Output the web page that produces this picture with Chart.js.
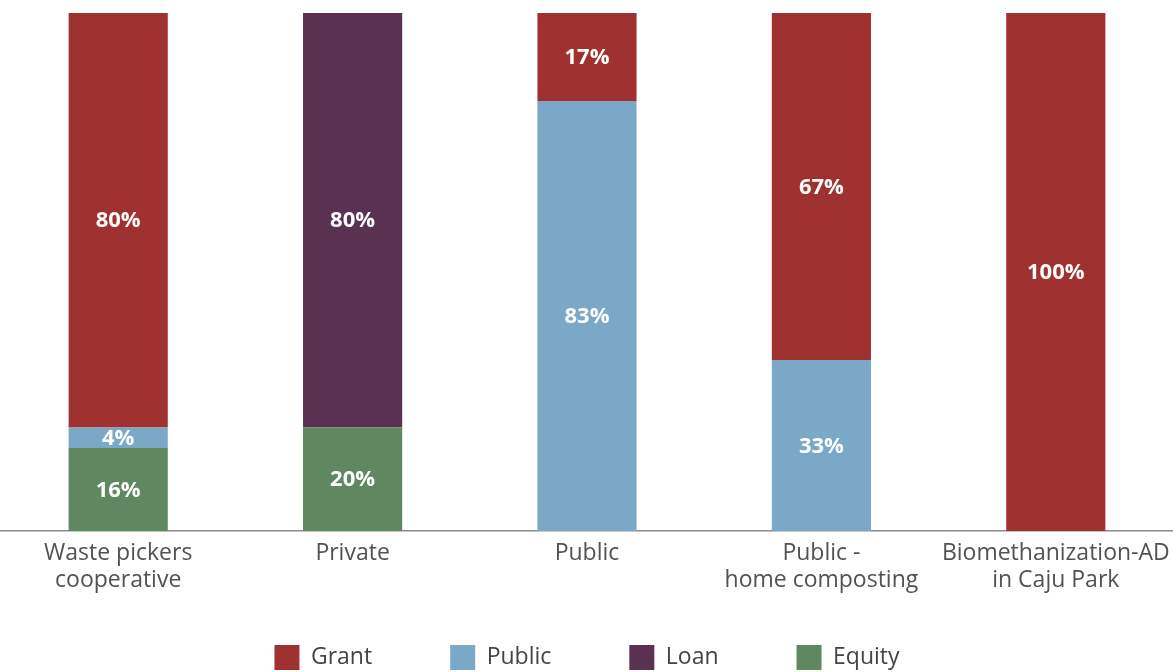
<!DOCTYPE html>
<html>
<head>
<meta charset="utf-8">
<script src="https://cdn.jsdelivr.net/npm/chart.js@4.4.1/dist/chart.umd.min.js"></script>
<style>
  html, body { margin: 0; padding: 0; background: #fff; }
  #wrap { width: 1173px; height: 672px; }
</style>
</head>
<body>
<div id="wrap"><canvas id="fundingChart"></canvas></div>
<script>
const categories = [
  ["Waste pickers", "cooperative"],
  "Private",
  "Public",
  ["Public -", "home composting"],
  ["Biomethanization-AD", "in Caju Park"]
];

// shares per funding source (%), stacked bottom-up
const equity = [16, 20, 0, 0, 0];
const publicFunds = [4, 0, 83, 33, 0];
const loan = [0, 80, 0, 0, 0];
const grant = [80, 0, 17, 67, 100];

const legendOrder = ["Grant", "Public", "Loan", "Equity"];

const FONT = "'Open Sans', 'Noto Sans', sans-serif";

// white % labels in the middle of each segment
const segmentLabels = {
  id: "segmentLabels",
  beforeDraw(chart) {
    // two-line category labels run past the short axis box, don't clip them
    chart.scales.x._computeLabelArea = () => undefined;
  },
  afterDatasetsDraw(chart) {
    const ctx = chart.ctx;
    ctx.save();
    ctx.fillStyle = "#fff";
    ctx.font = "bold 22px " + FONT;
    ctx.textAlign = "center";
    ctx.textBaseline = "middle";
    chart.data.datasets.forEach((ds, i) => {
      const meta = chart.getDatasetMeta(i);
      if (meta.hidden) return;
      meta.data.forEach((bar, j) => {
        const v = ds.data[j];
        if (!v) return;
        const p = bar.getProps(["x", "y", "base"], true);
        ctx.fillText(v + "%", p.x, (p.y + p.base) / 2 + 1);
      });
    });
    ctx.restore();
  }
};

function createChart() {
  const ctx = document.getElementById("fundingChart").getContext("2d");
  return new Chart(ctx, {
    type: "bar",
    data: {
      labels: categories,
      datasets: [
        { label: "Equity", data: equity, backgroundColor: "#5F8860" },
        { label: "Public", data: publicFunds, backgroundColor: "#7BA8C7" },
        { label: "Loan", data: loan, backgroundColor: "#5A3150" },
        { label: "Grant", data: grant, backgroundColor: "#A03131" }
      ]
    },
    options: {
      responsive: true,
      maintainAspectRatio: false,
      animation: false,
      layout: { padding: { top: 13, left: 1, right: 0, bottom: -8 } },
      datasets: {
        bar: { categoryPercentage: 1, barPercentage: 0.423, borderWidth: 0 }
      },
      scales: {
        x: {
          stacked: true,
          grid: { display: false, drawTicks: false },
          border: { display: true, color: "#8a8a8a", width: 1.5 },
          ticks: {
            color: "#525252",
            font: { family: FONT, size: 23, lineHeight: 1.17 },
            padding: 9,
            maxRotation: 0,
            autoSkip: false
          },
          // keep the axis block short so the legend sits low
          afterFit(scale) {
            scale.height = 36;
            scale.paddingRight = 0;
          }
        },
        y: {
          stacked: true,
          display: false,
          min: 0,
          max: 100
        }
      },
      plugins: {
        legend: {
          position: "bottom",
          labels: {
            color: "#444",
            font: { family: FONT, size: 23 },
            boxWidth: 25,
            boxHeight: 25,
            padding: 78,
            sort: (a, b) => legendOrder.indexOf(a.text) - legendOrder.indexOf(b.text)
          }
        },
        tooltip: { enabled: false }
      }
    },
    plugins: [segmentLabels]
  });
}

createChart();
</script>
</body>
</html>
